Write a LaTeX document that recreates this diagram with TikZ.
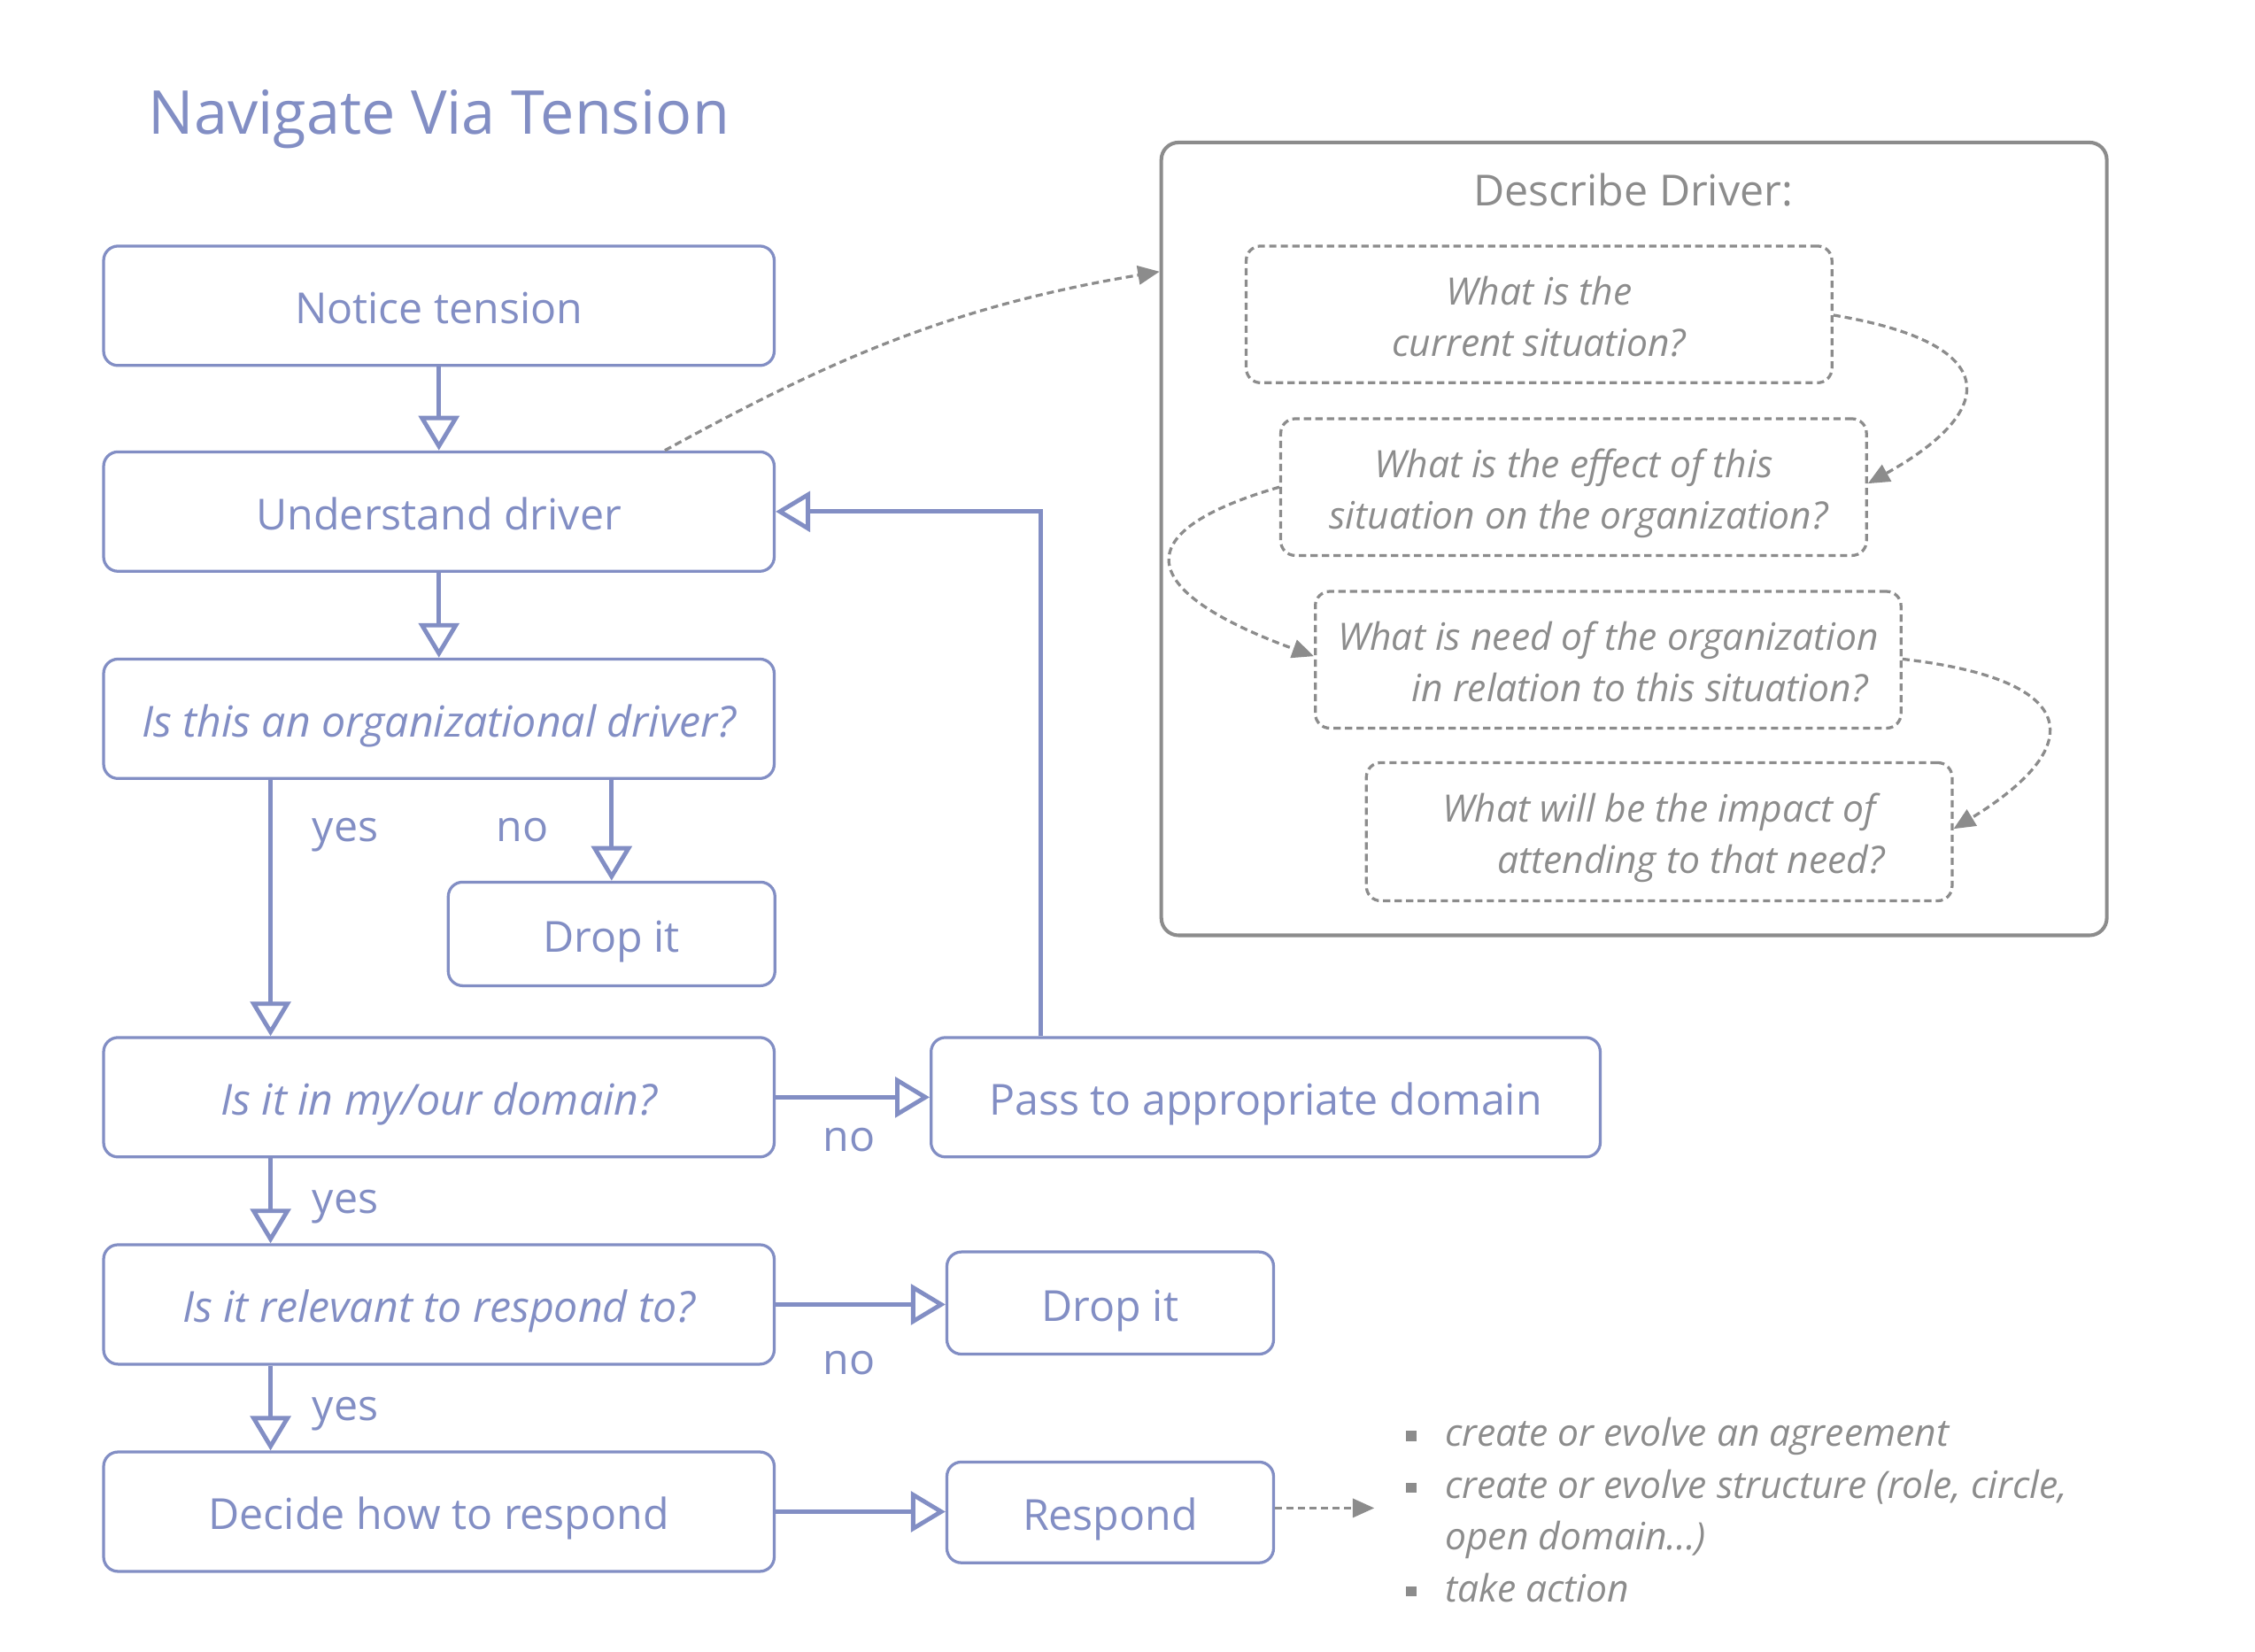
\documentclass[tikz,border=0pt]{standalone}
\usepackage{fontspec}
\setmainfont{Open Sans}
\usetikzlibrary{arrows.meta}
\definecolor{nvblue}{RGB}{130,142,196}
\definecolor{nvgray}{RGB}{140,140,140}
\newcommand{\nvbul}{\makebox[27pt][l]{\textcolor{nvgray}{\rule[3.5pt]{7pt}{7pt}}}}
\begin{document}
\begin{tikzpicture}[x=1pt,y=-1pt,
  fbox/.style={draw=nvblue, line width=2pt, rounded corners=10pt,
    minimum width=466pt, minimum height=83pt, inner sep=0pt, text=nvblue,
    font=\fontsize{29.7}{36}\selectfont, text height=25pt, text depth=0pt},
  qbox/.style={fbox, font=\fontsize{29.7}{36}\selectfont\itshape},
  sbox/.style={fbox, minimum width=227pt, minimum height=72pt},
  flow/.style={draw=nvblue, line width=3pt,
    -{Triangle[open, width=28pt, length=24pt, line width=3pt]}},
  lbl/.style={text=nvblue, font=\fontsize{29.7}{36}\selectfont, anchor=base, inner sep=0pt},
  gbox/.style={draw=nvgray, line width=2pt, dash pattern=on 5pt off 3pt,
    rounded corners=10pt, minimum width=407pt, minimum height=95pt,
    align=center, text=nvgray, font=\fontsize{26.2}{36}\selectfont\itshape, inner sep=0pt,
    text height=58.4pt, text depth=0pt},
  garrow/.style={draw=nvgray, line width=2pt, dash pattern=on 5pt off 3pt,
    -{Triangle[width=13pt, length=15pt]}, fill=none}
]
\path[fill=white] (0,0) rectangle (1567,1148);

% title
\node[anchor=base west, inner sep=0pt, text=nvblue, font=\fontsize{42}{48}\selectfont] (title) at (103,93) {Navigate Via Tension};

% left column
\node[fbox] (notice) at (305,212.5) {Notice tension};
\node[fbox] (understand) at (305,355.5) {Understand driver};
\node[qbox] (isorg) at (305,499.5) {Is this an organizational driver?};
\node[sbox] (drop1) at (425,649) {Drop it};
\node[qbox] (domain) at (305,762.5) {Is it in my/our domain?};
\node[fbox, minimum width=465pt] (pass) at (879.5,762.5) {Pass to appropriate domain};
\node[qbox] (relevant) at (305,906.5) {Is it relevant to respond to?};
\node[sbox, minimum height=71pt] (drop2) at (771.5,905.5) {Drop it};
\node[fbox] (decide) at (305,1050.5) {Decide how to respond};
\node[sbox, minimum height=70pt] (respond) at (771.5,1051) {Respond};

% flow arrows
\draw[flow] (notice) -- (understand);
\draw[flow] (understand) -- (isorg);
\draw[flow] ([xshift=-117pt]isorg.south) -- ([xshift=-117pt]domain.north);
\draw[flow] (isorg.south -| drop1.north) -- (drop1.north);
\draw[flow] (domain.east) -- (pass.west);
\draw[flow] ([xshift=-156.5pt]pass.north) |- (understand.east);
\draw[flow] ([xshift=-117pt]domain.south) -- ([xshift=-117pt]relevant.north);
\draw[flow] (relevant.east) -- (relevant.east -| drop2.west);
\draw[flow] ([xshift=-117pt]relevant.south) -- ([xshift=-117pt]decide.north);
\draw[flow] (decide.east) -- (decide.east -| respond.west);

% labels
\node[lbl] (yes1) at (240,585) {yes};
\node[lbl] (no1) at (363,585) {no};
\node[lbl] (no2) at (590,800) {no};
\node[lbl] (yes2) at (240,843) {yes};
\node[lbl] (no3) at (590,955) {no};
\node[lbl] (yes3) at (240,987) {yes};

% describe driver
\node[draw=nvgray, line width=2.5pt, rounded corners=12pt, minimum width=657pt,
  minimum height=551pt, inner sep=0pt] (desc) at (1135.5,374.5) {};
\node[anchor=base, inner sep=0pt, text=nvgray, font=\fontsize{29.7}{36}\selectfont] (desctitle) at (1135,143) {Describe Driver:};
\node[gbox] (q1) at (1069.5,218.5) {What is the\\current situation?};
\node[gbox] (q2) at (1093.5,338.5) {What is the effect of this\\\hspace*{7pt}situation on the organization?};
\node[gbox] (q3) at (1117.5,458.5) {What is need of the organization\\\hspace*{44pt}in relation to this situation?};
\node[gbox, minimum height=96pt] (q4) at (1153,578) {What will be the impact of\\\hspace*{44pt}attending to that need?};

\draw[garrow] ([xshift=157pt]understand.north) .. controls +(110,-60) and +(-150,25) .. ([yshift=-91pt]desc.north west);
\draw[garrow] ([yshift=-0.5pt]q1.east) .. controls +(120,20) and +(90,-50) .. ([yshift=2.5pt]q2.east);
\draw[garrow] (q2.west) .. controls +(-120,35) and +(-110,-40) .. ([yshift=2.5pt]q3.west);
\draw[garrow] ([yshift=0.5pt]q3.east) .. controls +(130,15) and +(90,-55) .. ([yshift=2pt]q4.east);

% respond outcomes
\coordinate (outarrow) at (955,1048);
\draw[garrow] ([yshift=3pt]respond.east) -- (outarrow);
\node[anchor=base west, inner sep=0pt, align=left, text=nvgray,
  font=\fontsize{26.2}{36}\selectfont\itshape] (outcomes) at (977,1113)
  {\nvbul create or evolve an agreement\\
   \nvbul create or evolve structure (role, circle,\\
   \hspace*{27pt}open domain...)\\
   \nvbul take action};
\end{tikzpicture}
\end{document}
